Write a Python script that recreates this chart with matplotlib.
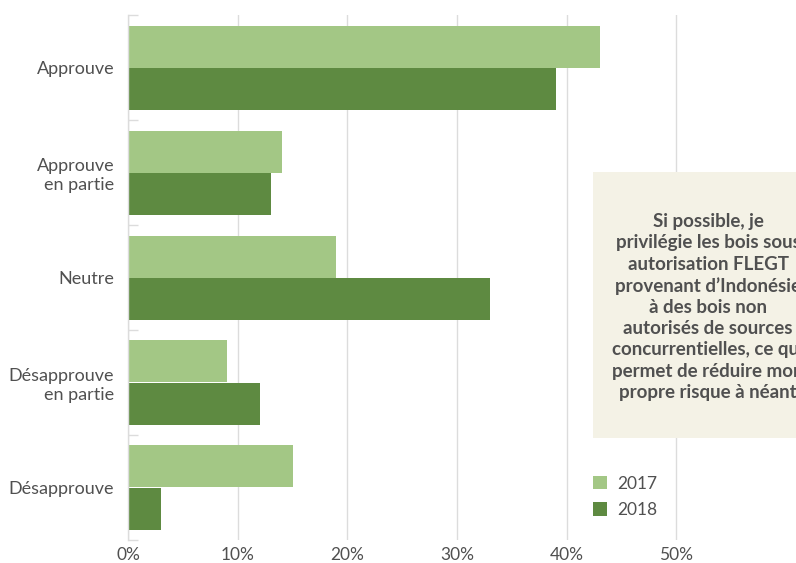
import matplotlib
matplotlib.use("Agg")
import matplotlib.pyplot as plt
from matplotlib.patches import Rectangle, Patch
import numpy as np

plt.rcParams['font.family'] = ['Lato', 'DejaVu Sans']

categories = ["Approuve", "Approuve\nen partie", "Neutre", "Désapprouve\nen partie", "Désapprouve"]
values_2017 = [43, 14, 19, 9, 15]
values_2018 = [39, 13, 33, 12, 3]
series_labels = ["2017", "2018"]
x_ticks = [0, 10, 20, 30, 40, 50]
x_tick_labels = ["0%", "10%", "20%", "30%", "40%", "50%"]
note_text = ("Si possible, je\nprivilégie les bois sous\nautorisation FLEGT\n"
             "provenant d’Indonésie\nà des bois non\nautorisés de sources\n"
             "concurrentielles, ce qui\npermet de réduire mon\npropre risque à néant")

light_green = "#a3c785"
dark_green = "#5e8a41"
text_col = "#505050"
grid_col = "#dcdcdc"

W, H = 796, 563
fig = plt.figure(figsize=(W / 100, H / 100), dpi=100)

left_px, right_px, top_px, bot_px = 128, 786, 15, 540
ax = fig.add_axes([left_px / W, 1 - bot_px / H, (right_px - left_px) / W, (bot_px - top_px) / H])

y = np.arange(len(categories))
bar_h = 0.40
ax.barh(y - 0.2, values_2017, height=bar_h, color=light_green, label=series_labels[0], zorder=3)
ax.barh(y + 0.2, values_2018, height=bar_h, color=dark_green, label=series_labels[1], zorder=3)

ax.set_xlim(0, 60)
ax.set_ylim(len(categories) - 0.5, -0.5)
ax.set_xticks(x_ticks)
ax.set_xticklabels(x_tick_labels)
ax.set_yticks(y)
ax.set_yticklabels(categories, linespacing=1.2)
ax.set_yticks(np.arange(-0.5, len(categories), 1.0), minor=True)

ax.tick_params(axis='y', which='major', length=0, pad=10, labelsize=13, labelcolor=text_col)
ax.tick_params(axis='y', which='minor', length=7, direction='in', color=grid_col, width=1)
ax.tick_params(axis='x', length=0, pad=5, labelsize=12.5, labelcolor=text_col)

ax.grid(axis='x', color=grid_col, linewidth=1, zorder=0)
for s in ['top', 'right', 'bottom']:
    ax.spines[s].set_visible(False)
ax.spines['left'].set_color(grid_col)
ax.spines['left'].set_linewidth(1)
ax.spines['left'].set_zorder(4)

# Note box on the right, running past the figure edge
bx0, by0, bx1, by1 = 593, 172, 823, 438
fig.patches.append(Rectangle((bx0 / W, 1 - by1 / H), (bx1 - bx0) / W, (by1 - by0) / H,
                             transform=fig.transFigure, facecolor="#f4f2e6",
                             edgecolor='none', zorder=5))
fig.text(708 / W, 1 - 307 / H, note_text, ha='center', va='center',
         fontsize=13.5, fontweight='bold', color=text_col, linespacing=1.3, zorder=6)

handles = [Patch(facecolor=light_green, label=series_labels[0]),
           Patch(facecolor=dark_green, label=series_labels[1])]
fig.legend(handles=handles, loc='upper left', bbox_to_anchor=(577 / W, 1 - 460 / H),
           frameon=False, fontsize=12.5, labelcolor=text_col, handlelength=0.8,
           handleheight=0.8, handletextpad=0.6, labelspacing=0.6)

fig.savefig("out.png", dpi=100)
